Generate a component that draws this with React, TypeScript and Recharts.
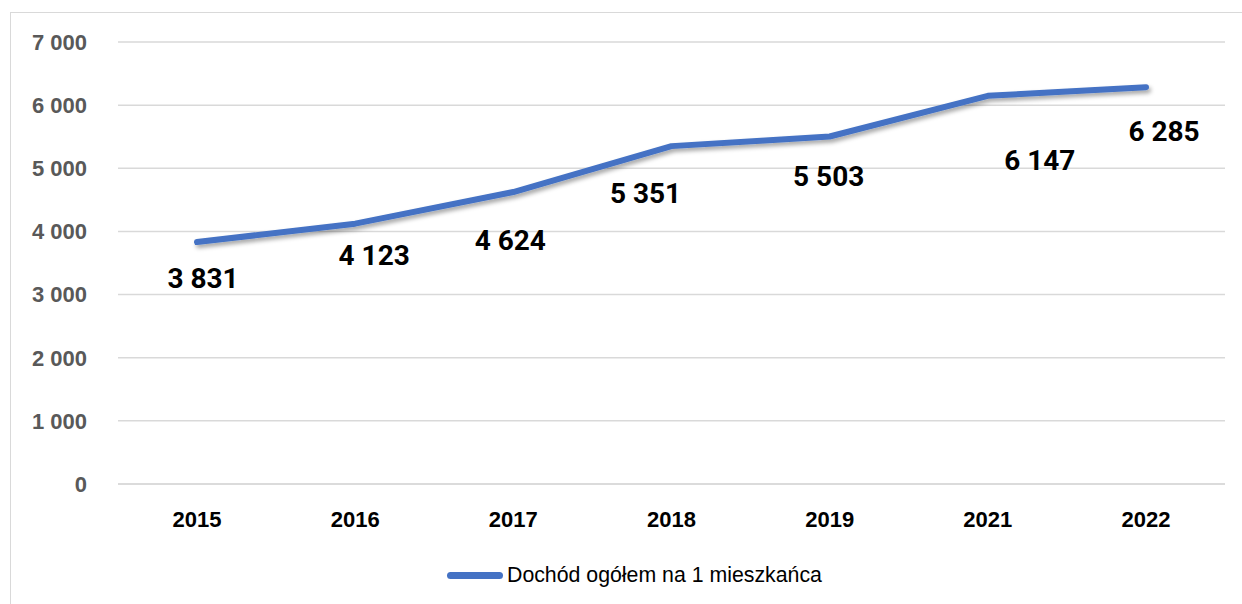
import { LineChart, Line, XAxis, YAxis, CartesianGrid } from "recharts";

const YEARS = ["2015", "2016", "2017", "2018", "2019", "2021", "2022"];
const INCOME = [3831, 4123, 4624, 5351, 5503, 6147, 6285];
const Y_TICKS = [0, 1000, 2000, 3000, 4000, 5000, 6000, 7000];
const SERIES_NAME = "Dochód ogółem na 1 mieszkańca";

// label nudges (Excel-style manual placement), dx/dy from the point
const LABEL_DX = [6, 19, -3, -26, -1, 52, 18];
const LABEL_DY = [36, 32, 48, 47, 40, 65, 44];

const data = YEARS.map((y, i) => ({ year: y, value: INCOME[i] }));

const fmt = (v: number) => String(v).replace(/\B(?=(\d{3})+(?!\d))/g, " ");

const AXIS_FONT = "'Liberation Sans', Arial, sans-serif";

const ValueLabel = (props: any) => {
  const { x, y, index, value } = props;
  return (
    <text
      x={x + LABEL_DX[index]}
      y={y + LABEL_DY[index]}
      textAnchor="middle"
      dominantBaseline="central"
      fontFamily="Roboto, sans-serif"
      fontWeight={700}
      fontSize={28}
      fill="#000"
    >
      {fmt(value)}
    </text>
  );
};

export default function App() {
  return (
    <div style={{ position: "fixed", left: 0, top: 0, width: 1242, height: 604, background: "#fff", overflow: "hidden" }}>
      <div
        style={{
          position: "absolute",
          left: 10,
          top: 12,
          width: 1300,
          height: 700,
          border: "1px solid #D9D9D9",
        }}
      />
      <LineChart
        width={1242}
        height={604}
        data={data}
        margin={{ top: 42, right: 17, left: 0, bottom: 90 }}
        style={{ position: "absolute", left: 0, top: 0 }}
      >
        <defs>
          <filter id="shadow" x="-5%" y="-50%" width="110%" height="200%">
            <feDropShadow dx="2" dy="3" stdDeviation="2" floodColor="#000" floodOpacity="0.35" />
          </filter>
        </defs>
        <CartesianGrid vertical={false} stroke="#D9D9D9" strokeWidth={1.5} />
        <XAxis
          dataKey="year"
          padding={{ left: 79, right: 79 }}
          axisLine={{ stroke: "#D9D9D9", strokeWidth: 1.5 }}
          tickLine={false}
          tickSize={0}
          tickMargin={27}
          tick={{ fill: "#000", fontSize: 22, fontWeight: 700, fontFamily: AXIS_FONT }}
          interval={0}
        />
        <YAxis
          width={118}
          domain={[0, 7000]}
          ticks={Y_TICKS}
          axisLine={false}
          tickLine={false}
          tickSize={0}
          tickMargin={31}
          tickFormatter={fmt}
          tick={{ fill: "#595959", fontSize: 22, fontWeight: 700, fontFamily: AXIS_FONT }}
        />
        <Line
          type="linear"
          dataKey="value"
          name={SERIES_NAME}
          stroke="#4472C4"
          strokeWidth={6}
          strokeLinecap="round"
          strokeLinejoin="round"
          dot={false}
          activeDot={false}
          filter="url(#shadow)"
          label={<ValueLabel />}
          isAnimationActive={false}
        />
      </LineChart>
      {/* legend */}
      <div
        style={{
          position: "absolute",
          left: 447,
          top: 562,
          height: 26,
          display: "flex",
          alignItems: "center",
          fontFamily: AXIS_FONT,
          fontSize: 21.3,
          color: "#000",
          whiteSpace: "nowrap",
        }}
      >
        <span
          style={{
            display: "inline-block",
            width: 56,
            height: 7,
            borderRadius: 4,
            background: "#4472C4",
            marginRight: 4,
          }}
        />
        {SERIES_NAME}
      </div>
    </div>
  );
}
